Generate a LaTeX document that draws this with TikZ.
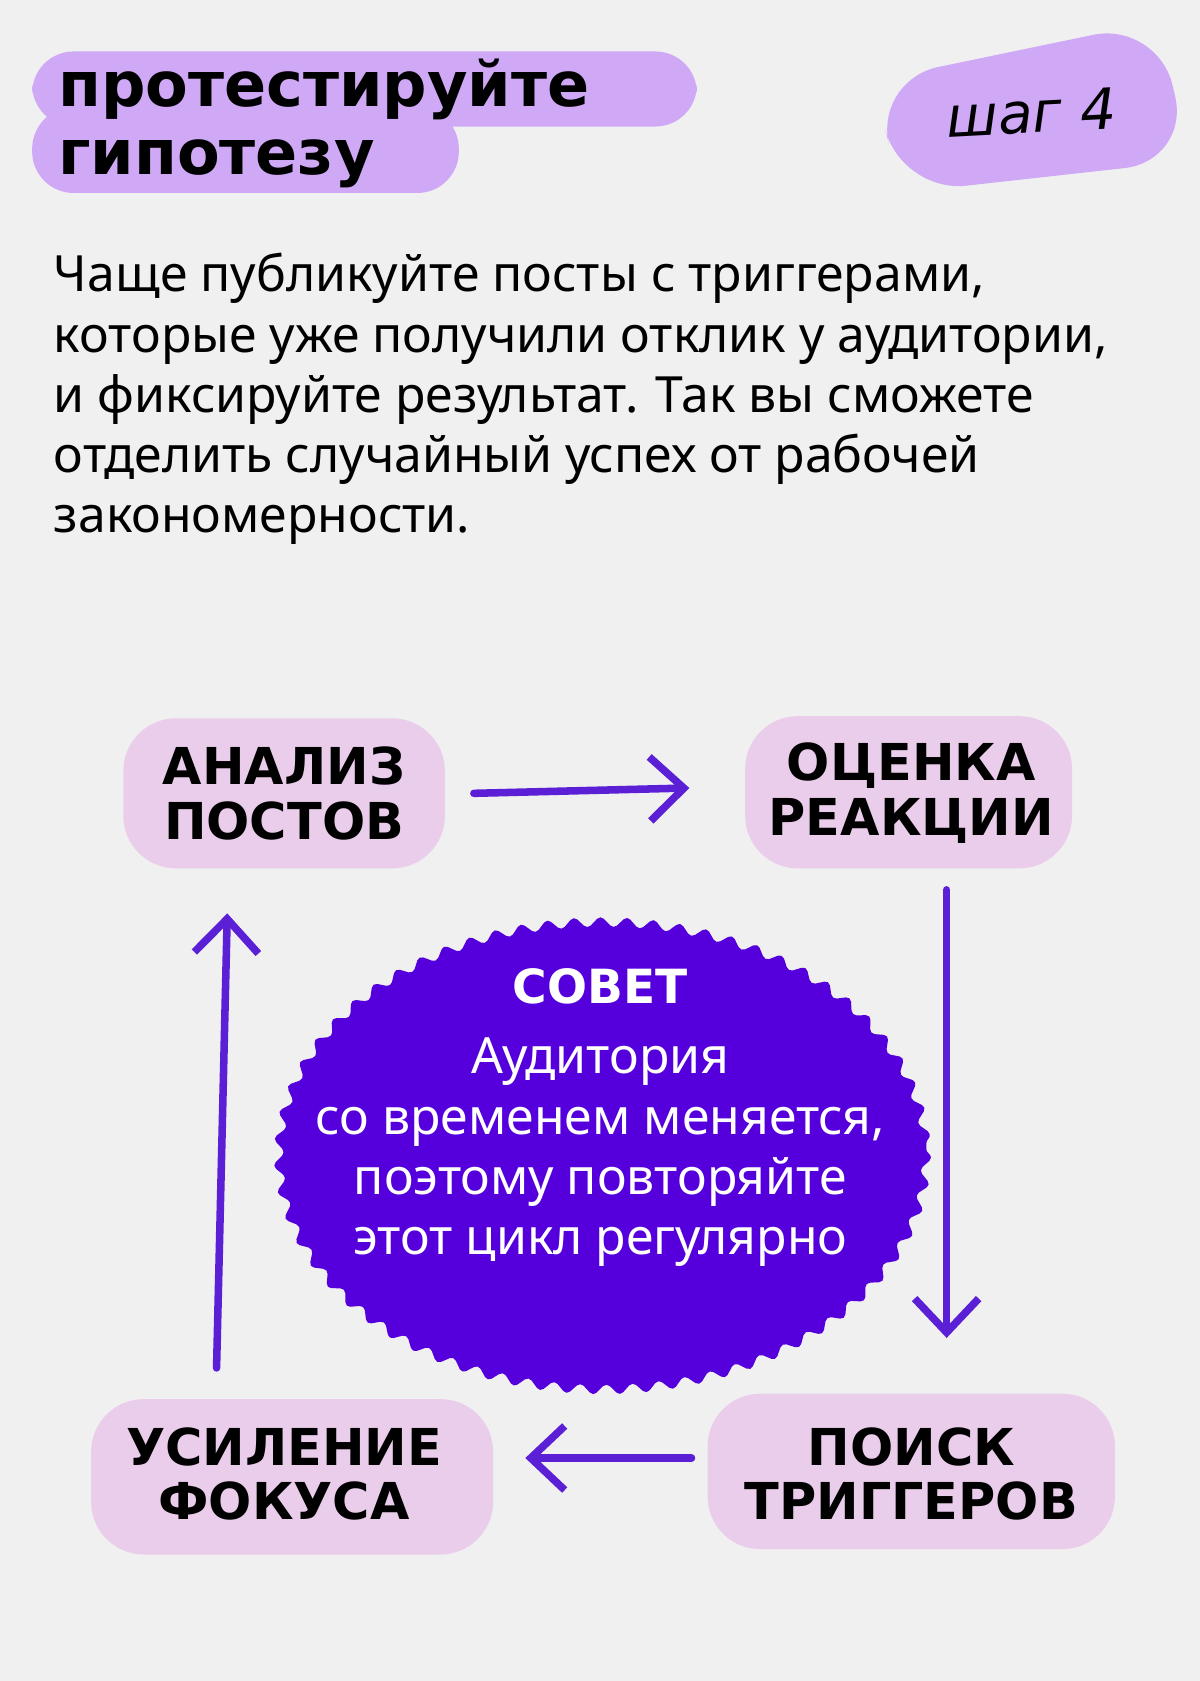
\documentclass[tikz,border=0pt]{standalone}
\usepackage{fontspec}
\setmainfont{Noto Sans}
\newfontfamily\headf{DejaVu Sans}
\usetikzlibrary{decorations.pathmorphing,arrows.meta}
\definecolor{bg}{HTML}{F0F0F0}
\definecolor{lil}{HTML}{CFA9F5}
\definecolor{pinkbox}{HTML}{EACDEA}
\definecolor{violet}{HTML}{5500DC}
\definecolor{arr}{HTML}{5B1FD6}
\begin{document}
\begin{tikzpicture}[x=0.02cm,y=-0.02cm,
  box/.style={fill=pinkbox,rounded corners=28},
  btxt/.style={font=\headf\bfseries\fontsize{27}{29}\selectfont,align=center,text=black},
  ar/.style={draw=arr,line width=4pt,line cap=round,-{Straight Barb[length=18pt,width=34pt,line width=4pt]}}]
\fill[bg] (0,0) rectangle (1119,1568);
\useasboundingbox (0,0) rectangle (1119,1568);
% title
\fill[lil,rounded corners=22] (30,48) rectangle (650,118);
\fill[lil,rounded corners=22] (30,100) rectangle (428,180);
\node[anchor=west,font=\headf\bfseries\fontsize{33}{36}\selectfont,align=left] (title) at (48,115) {протестируйте\\гипотезу};
\fill[lil,rounded corners=35] (815,75) -- (1080,20) -- (1110,150) -- (840,180) -- cycle;
\node[font=\headf\itshape\fontsize{30}{32}\selectfont,rotate=3] (step) at (962,105) {шаг 4};
% paragraph
\node[anchor=north west,align=left,font=\fontsize{26.5}{32}\selectfont,inner sep=0] (para) at (50,236)
{Чаще публикуйте посты с триггерами,\\которые уже получили отклик у аудитории,\\и фиксируйте результат. Так вы сможете\\отделить случайный успех от рабочей\\закономерности.};
% boxes
\fill[box] (115,670) rectangle (415,810);
\fill[box] (695,668) rectangle (1000,810);
\fill[box] (85,1305) rectangle (460,1450);
\fill[box] (660,1300) rectangle (1040,1445);
\node[btxt] (a) at (265,740) {АНАЛИЗ\\ПОСТОВ};
\node[btxt] (b) at (850,740) {ОЦЕНКА\\РЕАКЦИИ};
\node[btxt] (c) at (850,1375) {ПОИСК\\ТРИГГЕРОВ};
\node[btxt] (d) at (265,1375) {УСИЛЕНИЕ\\ФОКУСА};
% center blob
\fill[violet,decorate,decoration={snake,segment length=14,amplitude=2.5}] (562,1072) ellipse [x radius=302,y radius=218];
\node[font=\headf\bfseries\fontsize{25}{27}\selectfont,text=white] (tip) at (560,920) {СОВЕТ};
\node[font=\fontsize{26.5}{32}\selectfont,text=white,align=center] (tipt) at (560,1075)
{Аудитория\\со временем меняется,\\поэтому повторяйте\\этот цикл регулярно};
% arrows
\coordinate (a1) at (442,740); \coordinate (a2) at (643,735);
\coordinate (b1) at (883,830); \coordinate (b2) at (883,1248);
\coordinate (c1) at (645,1360); \coordinate (c2) at (490,1360);
\coordinate (d1) at (202,1276); \coordinate (d2) at (212,852);
\draw[ar] (a1) -- (a2);
\draw[ar] (b1) -- (b2);
\draw[ar] (c1) -- (c2);
\draw[ar] (d1) -- (d2);
\end{tikzpicture}
\end{document}
